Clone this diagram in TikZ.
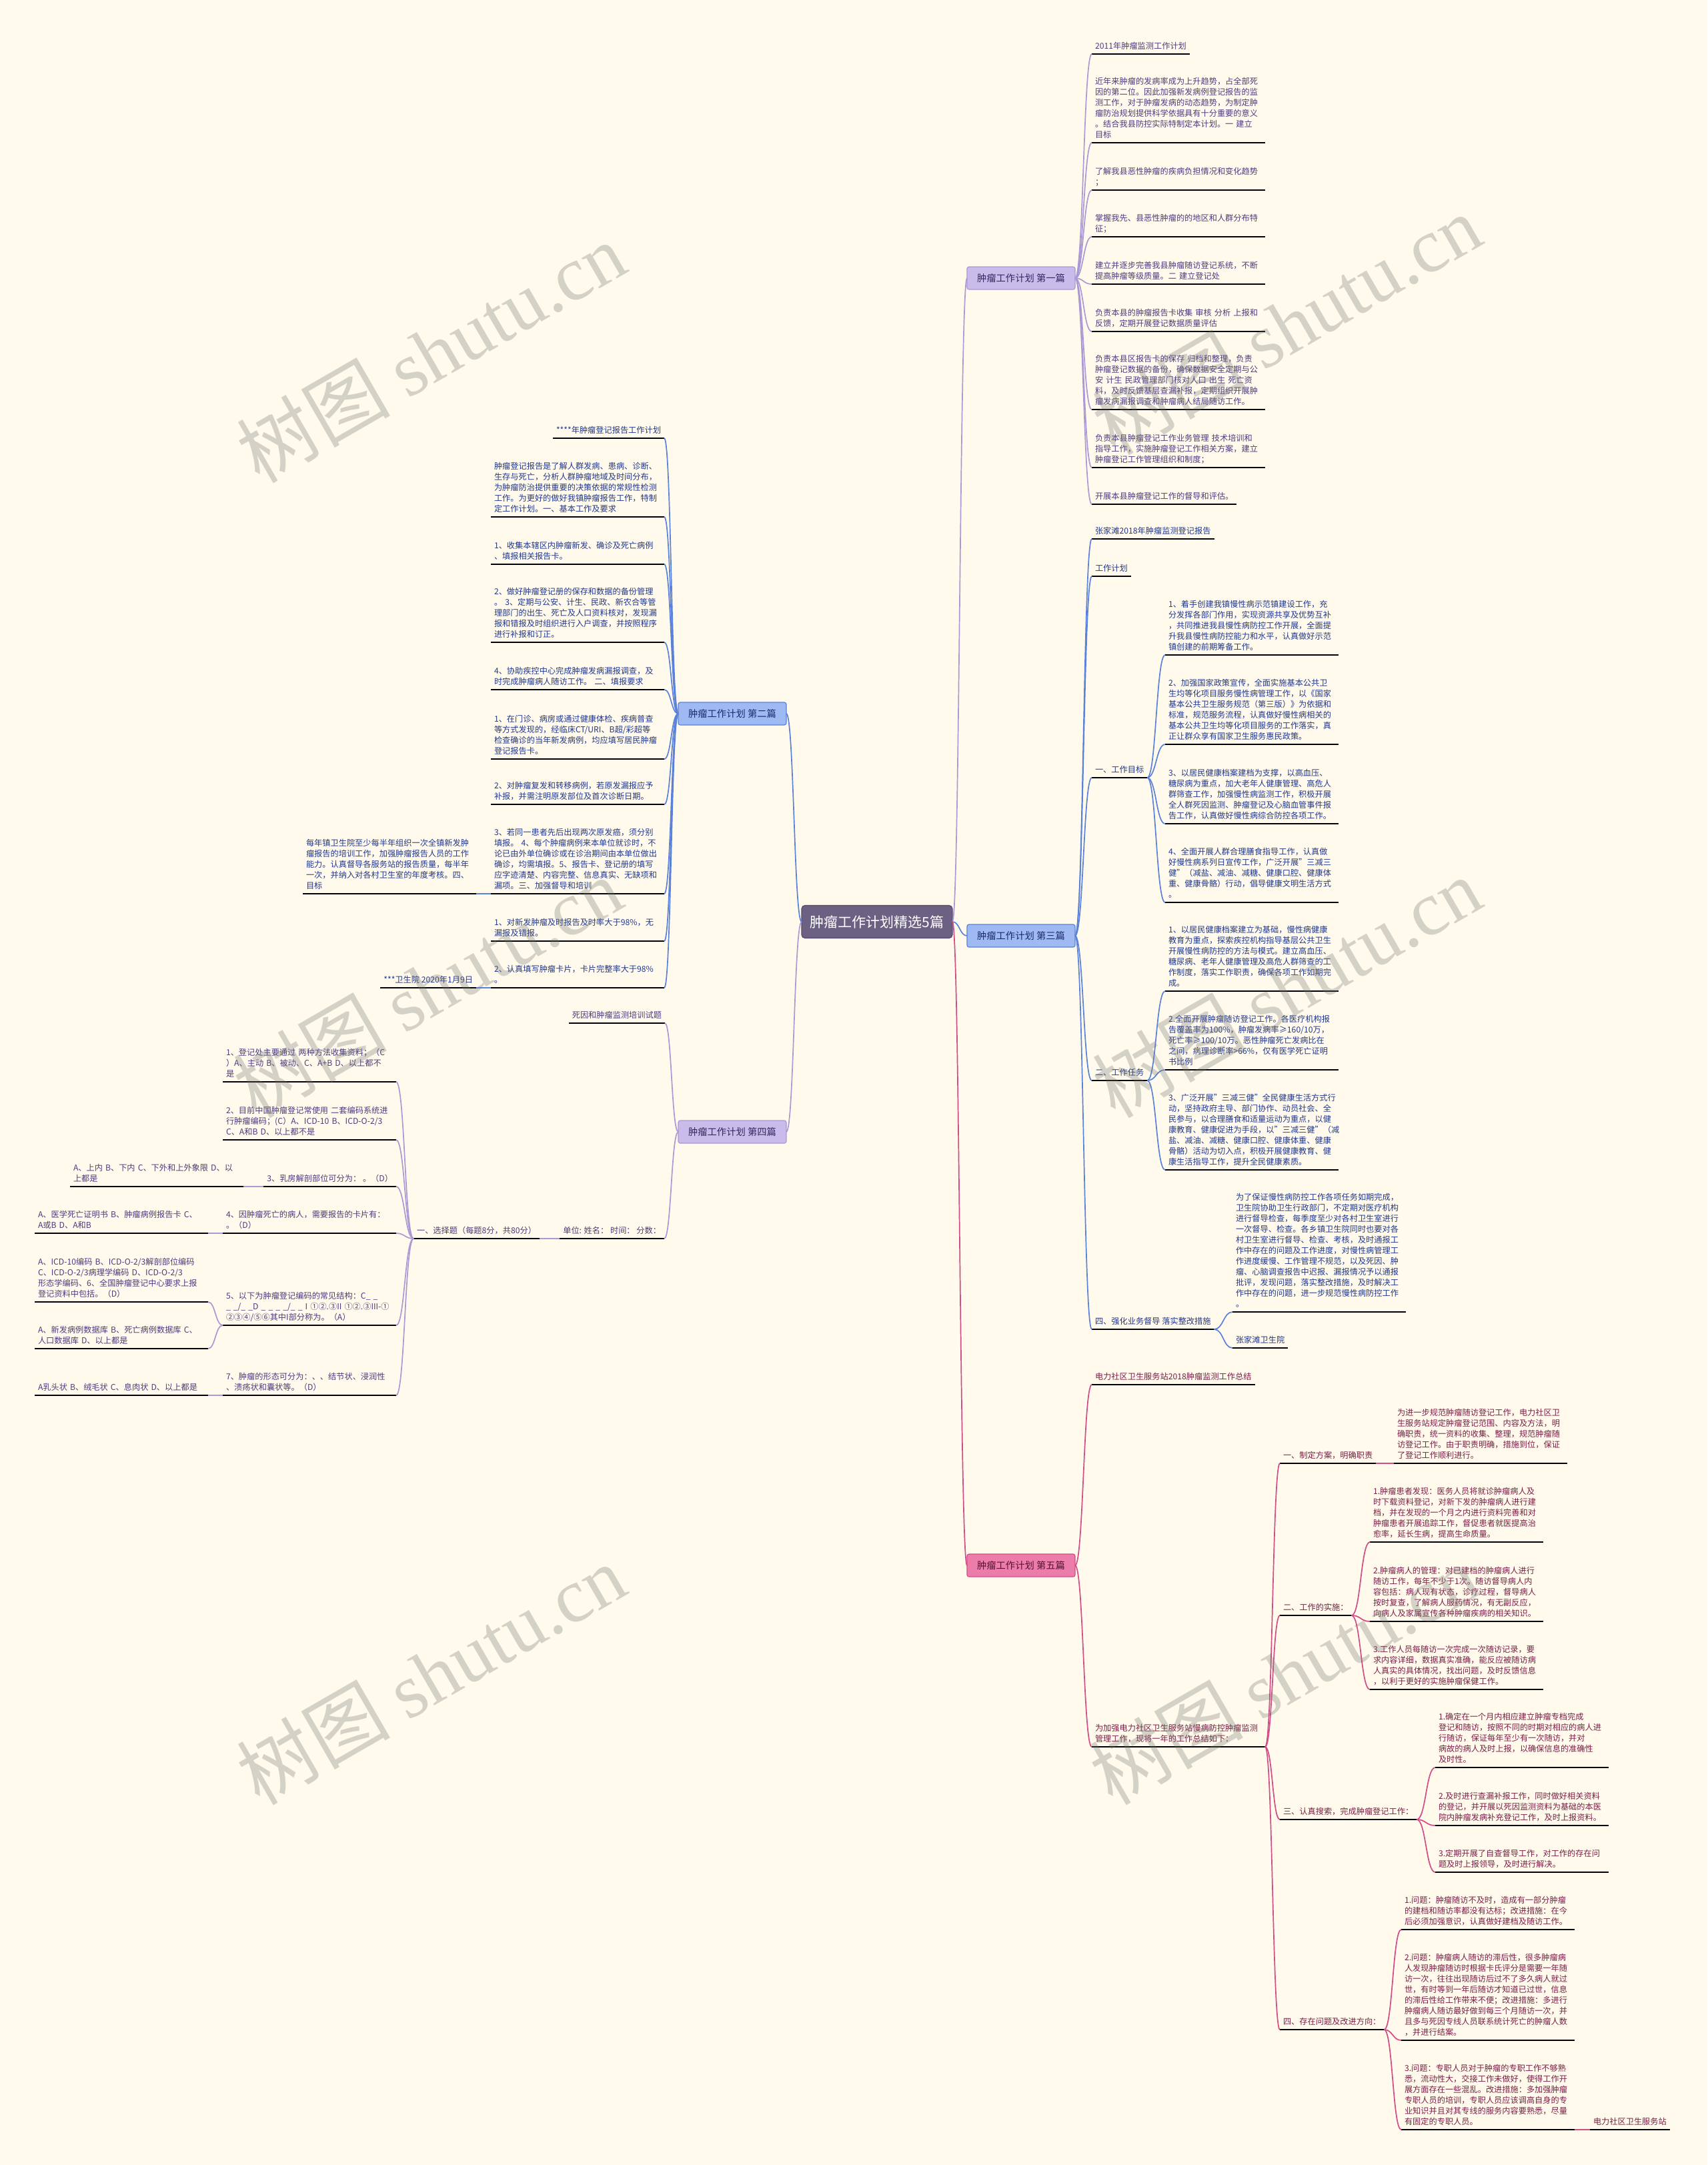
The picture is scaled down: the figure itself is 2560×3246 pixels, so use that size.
\documentclass[tikz,border=0pt]{standalone}
\usepackage{fontspec}
\setmainfont{Noto Sans CJK SC}
\newfontfamily\wmserif{Liberation Serif}
\usetikzlibrary{calc}
\definecolor{bg}{HTML}{FFFAEB}
\definecolor{lineP}{HTML}{A89AD4}
\definecolor{lineB}{HTML}{5B82DA}
\definecolor{lineK}{HTML}{D14D87}
\definecolor{boxP}{HTML}{C9BCEA}
\definecolor{boxB}{HTML}{9FBAF2}
\definecolor{boxK}{HTML}{EC7CAA}
\definecolor{ctrF}{HTML}{6D6183}
\definecolor{ctrD}{HTML}{54496A}
\definecolor{txtP}{HTML}{4B3C80}
\definecolor{txtB}{HTML}{22388C}
\definecolor{txtK}{HTML}{7A1E48}
\definecolor{txtPd}{HTML}{352860}
\definecolor{txtBd}{HTML}{1B2C6E}
\definecolor{txtKd}{HTML}{5C1032}
\newcommand{\leafnode}[4]{%
  \node[#1] (#2) at (#3) {#4};
  \draw[ul] (#2.south west) -- (#2.south east);}
\tikzset{
  every node/.style={outer sep=0pt},
  leaf/.style={inner xsep=5pt, inner ysep=3pt, align=left,
    font=\fontsize{12.2}{16}\selectfont, execute at end node=\strut},
  leafR/.style={leaf, anchor=south west},
  leafL/.style={leaf, anchor=south east},
  wide/.style={text width=250pt},
  tP/.style={text=txtP}, tB/.style={text=txtB}, tK/.style={text=txtK},
  ul/.style={draw=black, line width=2.2pt},
  conn/.style={to path={.. controls ($(\tikztostart)!0.5!(\tikztotarget|-\tikztostart)$) and ($(\tikztotarget)!0.5!(\tikztostart|-\tikztotarget)$) .. (\tikztotarget)}},
  cP/.style={conn, draw=lineP, line width=1.7pt},
  cB/.style={conn, draw=lineB, line width=1.7pt},
  cK/.style={conn, draw=lineK, line width=1.7pt},
  brbox/.style={rounded corners=3pt, minimum width=162pt, minimum height=34pt, inner sep=0pt,
    line width=1.2pt, font=\fontsize{14.3}{16}\selectfont},
  ctrbox/.style={rounded corners=5pt, fill=ctrF, draw=ctrD, line width=1.2pt, text=white,
    minimum width=226pt, minimum height=49pt, inner sep=0pt, font=\fontsize{21}{24}\selectfont},
  wm/.style={rotate=30, text=black!55, opacity=0.3, font=\fontsize{115}{120}\selectfont}
}
\begin{document}
\begin{tikzpicture}[x=1pt,y=-1pt]
\useasboundingbox (0,0) rectangle (2560,3246);
\fill[bg] (0,0) rectangle (2560,3246);

% center and branches
\node[ctrbox] (ctr) at (1315,1382) {肿瘤工作计划精选5篇};
\node[brbox, fill=boxP, draw=lineP, text=txtPd] (br1) at (1531,417) {肿瘤工作计划 第一篇};
\node[brbox, fill=boxB, draw=lineB, text=txtBd] (br2) at (1098,1070) {肿瘤工作计划 第二篇};
\node[brbox, fill=boxB, draw=lineB, text=txtBd] (br3) at (1531,1403) {肿瘤工作计划 第三篇};
\node[brbox, fill=boxP, draw=lineP, text=txtPd] (br4) at (1098,1697) {肿瘤工作计划 第四篇};
\node[brbox, fill=boxK, draw=lineK, text=txtKd] (br5) at (1531,2347) {肿瘤工作计划 第五篇};
\draw[cP] (ctr.east) to (br1.west);
\draw[cB] (ctr.east) to (br3.west);
\draw[cK] (ctr.east) to (br5.west);
\draw[cB] (ctr.west) to (br2.east);
\draw[cP] (ctr.west) to (br4.east);

% ---------- 第一篇 ----------
\leafnode{leafR,tP}{a1}{1637,81}{2011年肿瘤监测工作计划}
\leafnode{leafR,wide,tP}{a2}{1637,214}{近年来肿瘤的发病率成为上升趋势，占全部死\\因的第二位。因此加强新发病例登记报告的监\\测工作，对于肿瘤发病的动态趋势，为制定肿\\瘤防治规划提供科学依据具有十分重要的意义\\。结合我县防控实际特制定本计划。一 建立\\目标}
\leafnode{leafR,wide,tP}{a3}{1637,285}{了解我县恶性肿瘤的疾病负担情况和变化趋势\\；}
\leafnode{leafR,wide,tP}{a4}{1637,355}{掌握我先、县恶性肿瘤的的地区和人群分布特\\征；}
\leafnode{leafR,wide,tP}{a5}{1637,426}{建立并逐步完善我县肿瘤随访登记系统，不断\\提高肿瘤等级质量。二 建立登记处}
\leafnode{leafR,wide,tP}{a6}{1637,497}{负责本县的肿瘤报告卡收集 审核 分析 上报和\\反馈，定期开展登记数据质量评估}
\leafnode{leafR,wide,tP}{a7}{1637,614}{负责本县区报告卡的保存 归档和整理，负责\\肿瘤登记数据的备份，确保数据安全定期与公\\安 计生 民政管理部门核对人口 出生 死亡资\\料，及时反馈基层查漏补报，定期组织开展肿\\瘤发病漏报调查和肿瘤病人结局随访工作。}
\leafnode{leafR,wide,tP}{a8}{1637,701}{负责本县肿瘤登记工作业务管理 技术培训和\\指导工作，实施肿瘤登记工作相关方案，建立\\肿瘤登记工作管理组织和制度；}
\leafnode{leafR,tP}{a9}{1637,756}{开展本县肿瘤登记工作的督导和评估。}
\foreach \n in {a1,a2,a3,a4,a5,a6,a7,a8,a9} \draw[cP] (br1.east) to (\n.south west);

% ---------- 第二篇 ----------
\leafnode{leafL,tB}{b1}{996,657}{****年肿瘤登记报告工作计划}
\leafnode{leafL,wide,tB}{b2}{996,775}{肿瘤登记报告是了解人群发病、患病、诊断、\\生存与死亡，分析人群肿瘤地域及时间分布，\\为肿瘤防治提供重要的决策依据的常规性检测\\工作。为更好的做好我镇肿瘤报告工作，特制\\定工作计划。一、基本工作及要求}
\leafnode{leafL,wide,tB}{b3}{996,846}{1、收集本辖区内肿瘤新发、确诊及死亡病例\\、填报相关报告卡。}
\leafnode{leafL,wide,tB}{b4}{996,963}{2、做好肿瘤登记册的保存和数据的备份管理\\。 3、定期与公安、计生、民政、新农合等管\\理部门的出生、死亡及人口资料核对，发现漏\\报和错报及时组织进行入户调查，并按照程序\\进行补报和订正。}
\leafnode{leafL,wide,tB}{b5}{996,1034}{4、协助疾控中心完成肿瘤发病漏报调查，及\\时完成肿瘤病人随访工作。 二、填报要求}
\leafnode{leafL,wide,tB}{b6}{996,1138}{1、在门诊、病房或通过健康体检、疾病普查\\等方式发现的，经临床CT/URI、B超/彩超等\\检查确诊的当年新发病例，均应填写居民肿瘤\\登记报告卡。}
\leafnode{leafL,wide,tB}{b7}{996,1206}{2、对肿瘤复发和转移病例，若原发漏报应予\\补报，并需注明原发部位及首次诊断日期。}
\leafnode{leafL,wide,tB}{b8}{996,1340}{3、若同一患者先后出现两次原发癌，须分别\\填报。 4、每个肿瘤病例来本单位就诊时，不\\论已由外单位确诊或在诊治期间由本单位做出\\确诊，均需填报。5、报告卡、登记册的填写\\应字迹清楚、内容完整、信息真实、无缺项和\\漏项。三、加强督导和培训}
\leafnode{leafL,wide,tB}{b8c}{714,1340}{每年镇卫生院至少每半年组织一次全镇新发肿\\瘤报告的培训工作，加强肿瘤报告人员的工作\\能力。认真督导各服务站的报告质量，每半年\\一次，并纳入对各村卫生室的年度考核。四、\\目标}
\leafnode{leafL,wide,tB}{b9}{996,1411}{1、对新发肿瘤及时报告及时率大于98\%，无\\漏报及错报。}
\leafnode{leafL,wide,tB}{b10}{996,1481}{2、认真填写肿瘤卡片，卡片完整率大于98\%\\。}
\leafnode{leafL,tB}{b10c}{714,1481}{***卫生院 2020年1月9日}
\foreach \n in {b1,b2,b3,b4,b5,b6,b7,b8,b9,b10} \draw[cB] (br2.west) to (\n.south east);
\draw[cB] (b8.south west) to (b8c.south east);
\draw[cB] (b10.south west) to (b10c.south east);

% ---------- 第三篇 ----------
\leafnode{leafR,tB}{c1}{1637,808}{张家滩2018年肿瘤监测登记报告}
\leafnode{leafR,tB}{c2}{1637,864}{工作计划}
\leafnode{leafR,tB}{c3}{1637,1166}{一、工作目标}
\leafnode{leafR,tB}{c4}{1637,1620}{二、工作任务}
\leafnode{leafR,tB}{c5}{1637,1993}{四、强化业务督导 落实整改措施}
\foreach \n in {c1,c2,c3,c4,c5} \draw[cB] (br3.east) to (\n.south west);
\leafnode{leafR,wide,tB}{c3a}{1747,982}{1、着手创建我镇慢性病示范镇建设工作，充\\分发挥各部门作用，实现资源共享及优势互补\\，共同推进我县慢性病防控工作开展，全面提\\升我县慢性病防控能力和水平，认真做好示范\\镇创建的前期筹备工作。}
\leafnode{leafR,wide,tB}{c3b}{1747,1116}{2、加强国家政策宣传，全面实施基本公共卫\\生均等化项目服务慢性病管理工作，以《国家\\基本公共卫生服务规范（第三版）》为依据和\\标准，规范服务流程，认真做好慢性病相关的\\基本公共卫生均等化项目服务的工作落实，真\\正让群众享有国家卫生服务惠民政策。}
\leafnode{leafR,wide,tB}{c3c}{1747,1235}{3、以居民健康档案建档为支撑，以高血压、\\糖尿病为重点，加大老年人健康管理、高危人\\群筛查工作，加强慢性病监测工作，积极开展\\全人群死因监测、肿瘤登记及心脑血管事件报\\告工作，认真做好慢性病综合防控各项工作。}
\leafnode{leafR,wide,tB}{c3d}{1747,1353}{4、全面开展人群合理膳食指导工作，认真做\\好慢性病系列日宣传工作，广泛开展"三减三\\健"（减盐、减油、减糖、健康口腔、健康体\\重、健康骨骼）行动，倡导健康文明生活方式\\。}
\foreach \n in {c3a,c3b,c3c,c3d} \draw[cB] (c3.south east) to (\n.south west);
\leafnode{leafR,wide,tB}{c4a}{1747,1486}{1、以居民健康档案建立为基础，慢性病健康\\教育为重点，探索疾控机构指导基层公共卫生\\开展慢性病防控的方法与模式。建立高血压、\\糖尿病、老年人健康管理及高危人群筛查的工\\作制度，落实工作职责，确保各项工作如期完\\成。}
\leafnode{leafR,wide,tB}{c4b}{1747,1604}{2.全面开展肿瘤随访登记工作。各医疗机构报\\告覆盖率为100\%，肿瘤发病率≥160/10万，\\死亡率≥100/10万。恶性肿瘤死亡发病比在\\之间，病理诊断率>66\%，仅有医学死亡证明\\书比例}
\leafnode{leafR,wide,tB}{c4c}{1747,1754}{3、广泛开展"三减三健"全民健康生活方式行\\动，坚持政府主导、部门协作、动员社会、全\\民参与，以合理膳食和适量运动为重点，以健\\康教育、健康促进为手段，以"三减三健"（减\\盐、减油、减糖、健康口腔、健康体重、健康\\骨骼）活动为切入点，积极开展健康教育、健\\康生活指导工作，提升全民健康素质。}
\foreach \n in {c4a,c4b,c4c} \draw[cB] (c4.south east) to (\n.south west);
\leafnode{leafR,wide,tB}{c5a}{1848,1967}{为了保证慢性病防控工作各项任务如期完成，\\卫生院协助卫生行政部门，不定期对医疗机构\\进行督导检查，每季度至少对各村卫生室进行\\一次督导、检查。各乡镇卫生院同时也要对各\\村卫生室进行督导、检查、考核，及时通报工\\作中存在的问题及工作进度，对慢性病管理工\\作进度缓慢、工作管理不规范，以及死因、肿\\瘤、心脑调查报告中迟报、漏报情况予以通报\\批评，发现问题，落实整改措施，及时解决工\\作中存在的问题，进一步规范慢性病防控工作\\。}
\leafnode{leafR,tB}{c5b}{1848,2021}{张家滩卫生院}
\foreach \n in {c5a,c5b} \draw[cB] (c5.south east) to (\n.south west);

% ---------- 第四篇 ----------
\leafnode{leafL,tP}{d1}{997,1534}{死因和肿瘤监测培训试题}
\leafnode{leafL,tP}{d2}{996,1857}{单位: 姓名：\ 时间：\ 分数：}
\leafnode{leafL,tP}{d3}{809,1857}{一、选择题（每题8分，共80分）}
\draw[cP] (br4.west) to (d1.south east);
\draw[cP] (br4.west) to (d2.south east);
\draw[cP] (d2.south west) to (d3.south east);
\leafnode{leafL,wide,tP}{e1}{594,1622}{1、登记处主要通过 两种方法收集资料；（C\\）A、主动 B、被动、C、A+B D、以上都不\\是}
\leafnode{leafL,wide,tP}{e2}{594,1709}{2、目前中国肿瘤登记常使用 二套编码系统进\\行肿瘤编码；(C）A、ICD-10 B、ICD-O-2/3\\ C、A和B D、以上都不是}
\leafnode{leafL,tP}{e3}{594,1779}{3、乳房解剖部位可分为： 。（D）}
\leafnode{leafL,wide,tP}{e4}{594,1849}{4、因肿瘤死亡的病人，需要报告的卡片有：\\。（D）}
\leafnode{leafL,wide,tP}{e5}{594,1987}{5、以下为肿瘤登记编码的常见结构：C\_ \_\\\mbox{\_ \_/\_ \_D \_ \_ \_ \_/\_ \_ I ①②.③II ①②.③III-①}\\②③④/⑤⑥其中I部分称为。（A）}
\leafnode{leafL,wide,tP}{e7}{594,2092}{7、肿瘤的形态可分为：、、结节状、浸润性\\、溃疡状和囊状等。（D）}
\foreach \n in {e1,e2,e3,e4,e5,e7} \draw[cP] (d3.south west) to (\n.south east);
\leafnode{leafL,wide,tP}{e3c}{365,1779}{A、上内 B、下内 C、下外和上外象限 D、以\\上都是}
\leafnode{leafL,wide,tP}{e4c}{312,1849}{A、医学死亡证明书 B、肿瘤病例报告卡 C、\\A或B D、A和B}
\leafnode{leafL,wide,tP}{e5a}{312,1952}{A、ICD-10编码 B、ICD-O-2/3解剖部位编码\\ C、ICD-O-2/3病理学编码 D、ICD-O-2/3\\形态学编码、6、全国肿瘤登记中心要求上报\\登记资料中包括。（D）}
\leafnode{leafL,wide,tP}{e5b}{312,2022}{A、新发病例数据库 B、死亡病例数据库 C、\\人口数据库 D、以上都是}
\leafnode{leafL,wide,tP}{e7c}{312,2092}{A乳头状 B、绒毛状 C、息肉状 D、以上都是}
\draw[cP] (e3.south west) to (e3c.south east);
\draw[cP] (e4.south west) to (e4c.south east);
\draw[cP] (e5.south west) to (e5a.south east);
\draw[cP] (e5.south west) to (e5b.south east);
\draw[cP] (e7.south west) to (e7c.south east);

% ---------- 第五篇 ----------
\leafnode{leafR,tK}{f1}{1637,2076}{电力社区卫生服务站2018肿瘤监测工作总结}
\leafnode{leafR,wide,tK}{f2}{1637,2619}{为加强电力社区卫生服务站慢病防控肿瘤监测\\管理工作，现将一年的工作总结如下：}
\draw[cK] (br5.east) to (f1.south west);
\draw[cK] (br5.east) to (f2.south west);
\leafnode{leafR,tK}{g1}{1919,2194}{一、制定方案，明确职责}
\leafnode{leafR,tK}{g2}{1919,2422}{二、工作的实施：}
\leafnode{leafR,tK}{g3}{1919,2728}{三、认真搜索，完成肿瘤登记工作：}
\leafnode{leafR,tK}{g4}{1919,3043}{四、存在问题及改进方向：}
\foreach \n in {g1,g2,g3,g4} \draw[cK] (f2.south east) to (\n.south west);
\leafnode{leafR,wide,tK}{g1c}{2090,2194}{为进一步规范肿瘤随访登记工作，电力社区卫\\生服务站规定肿瘤登记范围、内容及方法，明\\确职责，统一资料的收集、整理，规范肿瘤随\\访登记工作。由于职责明确，措施到位，保证\\了登记工作顺利进行。}
\draw[cK] (g1.south east) to (g1c.south west);
\leafnode{leafR,wide,tK}{g2a}{2054,2312}{1.肿瘤患者发现：医务人员将就诊肿瘤病人及\\时下载资料登记，对新下发的肿瘤病人进行建\\档，并在发现的一个月之内进行资料完善和对\\肿瘤患者开展追踪工作，督促患者就医提高治\\愈率，延长生病，提高生命质量。}
\leafnode{leafR,wide,tK}{g2b}{2054,2431}{2.肿瘤病人的管理：对已建档的肿瘤病人进行\\随访工作，每年不少于1次。随访督导病人内\\容包括：病人现有状态，诊疗过程，督导病人\\按时复查，了解病人服药情况，有无副反应，\\向病人及家属宣传各种肿瘤疾病的相关知识。}
\leafnode{leafR,wide,tK}{g2c}{2054,2533}{3.工作人员每随访一次完成一次随访记录，要\\求内容详细，数据真实准确，能反应被随访病\\人真实的具体情况，找出问题，及时反馈信息\\，以利于更好的实施肿瘤保健工作。}
\foreach \n in {g2a,g2b,g2c} \draw[cK] (g2.south east) to (\n.south west);
\leafnode{leafR,wide,tK}{g3a}{2152,2650}{1.确定在一个月内相应建立肿瘤专档完成\\登记和随访，按照不同的时期对相应的病人进\\行随访，保证每年至少有一次随访，并对\\病故的病人及时上报，以确保信息的准确性\\及时性。}
\leafnode{leafR,wide,tK}{g3b}{2152,2737}{2.及时进行查漏补报工作，同时做好相关资料\\的登记，并开展以死因监测资料为基础的本医\\院内肿瘤发病补充登记工作，及时上报资料。}
\leafnode{leafR,wide,tK}{g3c}{2152,2807}{3.定期开展了自查督导工作，对工作的存在问\\题及时上报领导，及时进行解决。}
\foreach \n in {g3a,g3b,g3c} \draw[cK] (g3.south east) to (\n.south west);
\leafnode{leafR,wide,tK}{g4a}{2101,2893}{1.问题：肿瘤随访不及时，造成有一部分肿瘤\\的建档和随访率都没有达标；改进措施：在今\\后必须加强意识，认真做好建档及随访工作。}
\leafnode{leafR,wide,tK}{g4b}{2101,3059}{2.问题：肿瘤病人随访的滞后性，很多肿瘤病\\人发现肿瘤随访时根据卡氏评分是需要一年随\\访一次，往往出现随访后过不了多久病人就过\\世，有时等到一年后随访才知道已过世，信息\\的滞后性给工作带来不便；改进措施：多进行\\肿瘤病人随访最好做到每三个月随访一次，并\\且多与死因专线人员联系统计死亡的肿瘤人数\\，并进行结案。}
\leafnode{leafR,wide,tK}{g4c}{2101,3193}{3.问题：专职人员对于肿瘤的专职工作不够熟\\悉，流动性大，交接工作未做好，使得工作开\\展方面存在一些混乱。改进措施：多加强肿瘤\\专职人员的培训，专职人员应该调高自身的专\\业知识并且对其专线的服务内容要熟悉，尽量\\有固定的专职人员。}
\leafnode{leafR,tK}{g4cc}{2384,3193}{电力社区卫生服务站}
\foreach \n in {g4a,g4b,g4c} \draw[cK] (g4.south east) to (\n.south west);
\draw[cK] (g4c.south east) to (g4cc.south west);

% ---------- watermarks ----------
\node[wm] (w1) at (646,528) {树图 {\wmserif shutu.cn}};
\node[wm] (w2) at (1929,486) {树图 {\wmserif shutu.cn}};
\node[wm] (w3) at (641,1480) {树图 {\wmserif shutu.cn}};
\node[wm] (w4) at (1929,1480) {树图 {\wmserif shutu.cn}};
\node[wm] (w5) at (646,2510) {树图 {\wmserif shutu.cn}};
\node[wm] (w6) at (1925,2510) {树图 {\wmserif shutu.cn}};
\end{tikzpicture}
\end{document}
